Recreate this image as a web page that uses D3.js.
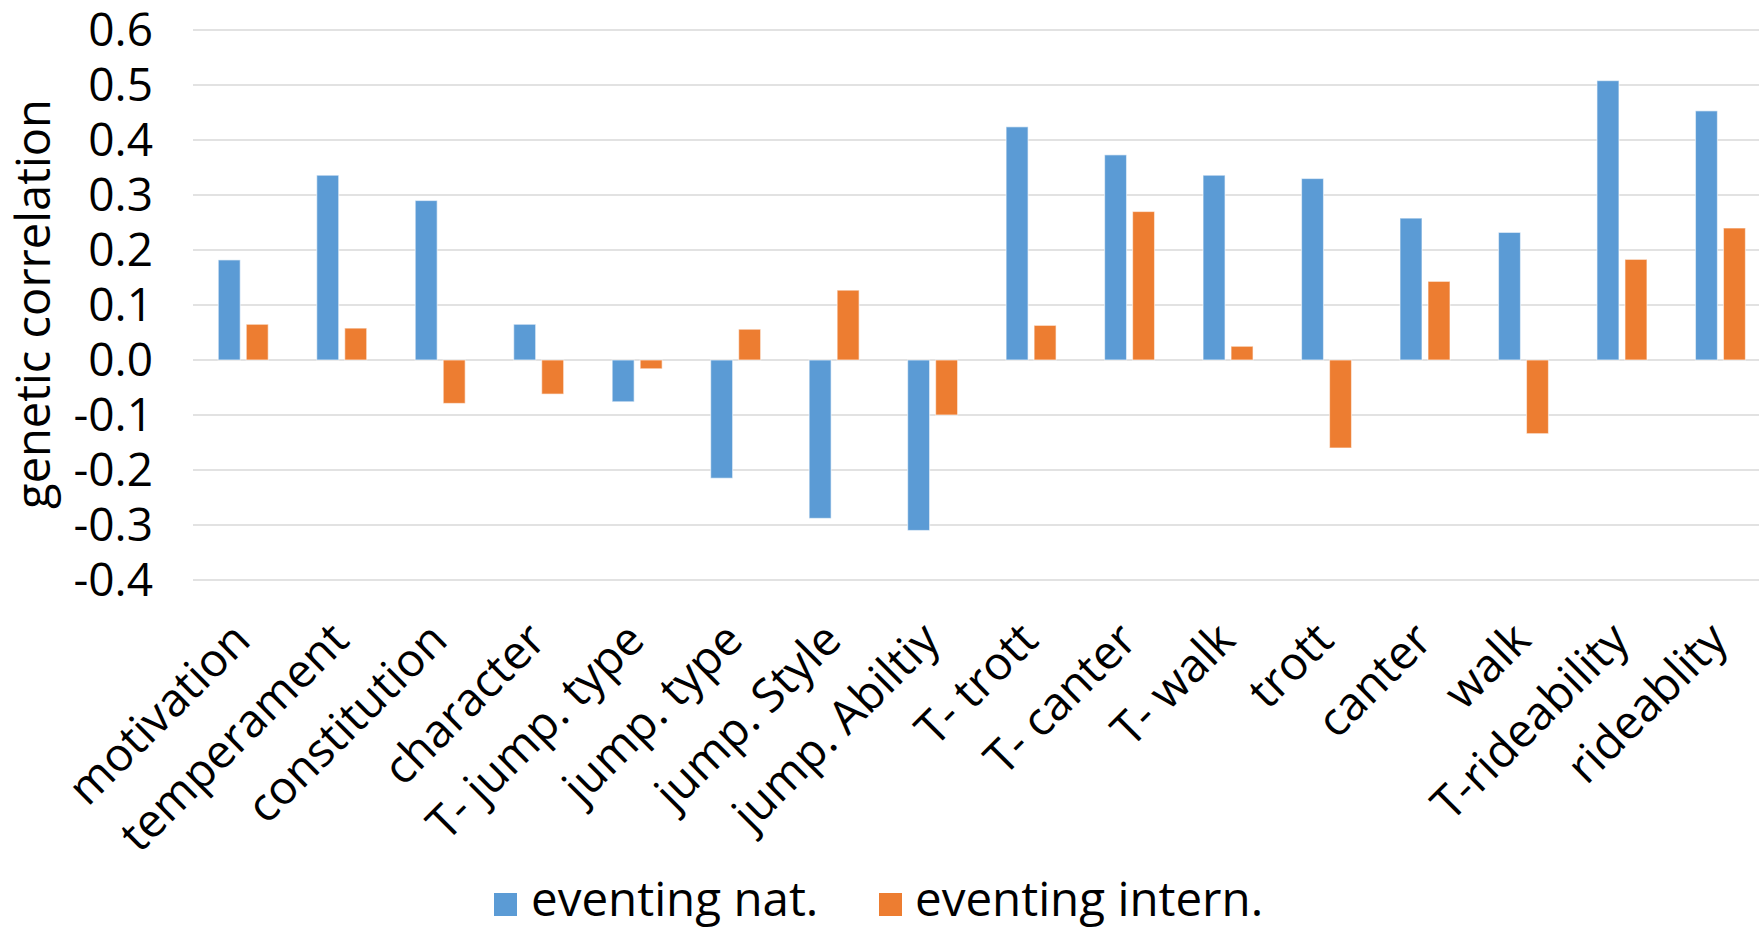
<!DOCTYPE html>
<html>
<head>
<meta charset="utf-8">
<script src="https://cdn.jsdelivr.net/npm/d3@7"></script>
<style>
  html, body { margin: 0; padding: 0; background: #ffffff; }
  svg { display: block; }
  text { font-family: "Open Sans", "Noto Sans", "DejaVu Sans", sans-serif; fill: #000; }
</style>
</head>
<body>
<svg id="chart" width="1759" height="929"></svg>
<script>
const categories = ["motivation", "temperament", "constitution", "character", "T- jump. type", "jump. type",
  "jump. Style", "jump. Abiltiy", "T- trott", "T- canter", "T- walk", "trott", "canter", "walk",
  "T-rideability", "rideablity"];
const seriesNames = ["eventing nat.", "eventing intern."];
const eventingNat = [0.182, 0.336, 0.290, 0.065, -0.076, -0.215, -0.288, -0.310, 0.424, 0.373, 0.336, 0.330, 0.258, 0.232, 0.508, 0.453];
const eventingIntern = [0.065, 0.058, -0.079, -0.062, -0.016, 0.056, 0.127, -0.100, 0.063, 0.270, 0.025, -0.160, 0.143, -0.134, 0.183, 0.240];
const yTicks = [0.6, 0.5, 0.4, 0.3, 0.2, 0.1, 0.0, -0.1, -0.2, -0.3, -0.4];
const yTickLabels = ["0.6", "0.5", "0.4", "0.3", "0.2", "0.1", "0.0", "-0.1", "-0.2", "-0.3", "-0.4"];
const yTitle = "genetic correlation";
const colors = ["#5B9BD5", "#ED7D31"];

const svg = d3.select("#chart");
const W = 1759, H = 929;
svg.append("rect").attr("width", W).attr("height", H).attr("fill", "#fff");

const plotLeft = 194, step = 98.48;
const x = d3.scaleBand().domain(categories).range([plotLeft, plotLeft + step * categories.length]).padding(0);
const y = d3.scaleLinear().domain([-0.4, 0.6]).range([580, 30]);
const inner = d3.scaleBand().domain(seriesNames)
  .range([x.bandwidth() * 0.5 - 25, x.bandwidth() * 0.5 + 25]).paddingInner(6 / 28).paddingOuter(0);

// gridlines
const grid = svg.append("g");
grid.selectAll("line").data(yTicks).join("line")
  .attr("x1", plotLeft - 1).attr("x2", W)
  .attr("y1", d => y(d)).attr("y2", d => y(d))
  .attr("stroke", "#d9d9d9").attr("stroke-width", 1.6);

// y axis labels
const yAxis = d3.axisLeft(y).tickValues(yTicks).tickSize(0).tickPadding(0)
  .tickFormat((d, i) => yTickLabels[i]);
const yg = svg.append("g").attr("transform", "translate(153,0)").call(yAxis);
yg.select(".domain").remove();
yg.selectAll("text").attr("font-size", 46).attr("font-family", "'Open Sans', sans-serif")
  .attr("fill", "#000").attr("dy", "0.34em").attr("x", 0);

// y title
svg.append("text")
  .attr("transform", "translate(50," + 304 + ") rotate(-90)")
  .attr("text-anchor", "middle").attr("font-size", 47)
  .text(yTitle);

// bars
const seriesData = [eventingNat, eventingIntern];
seriesData.forEach((vals, si) => {
  svg.append("g").selectAll("rect").data(vals).join("rect")
    .attr("x", (d, i) => x(categories[i]) + inner(seriesNames[si]))
    .attr("width", inner.bandwidth())
    .attr("y", d => Math.min(y(d), y(0)))
    .attr("height", d => Math.abs(y(d) - y(0)))
    .attr("fill", colors[si])
    .attr("stroke", "#ffffff").attr("stroke-opacity", 0.55).attr("stroke-width", 1.2);
});

// category labels
const xg = svg.append("g");
xg.selectAll("text").data(categories).join("text")
  .attr("transform", d => "translate(" + (x(d) + x.bandwidth() / 2 - 2) + ",631) rotate(-45)")
  .attr("text-anchor", "end").attr("dy", "0.35em").attr("font-size", 46.5)
  .text(d => d);

// legend
const legendItems = [
  { name: seriesNames[0], color: colors[0], sx: 494, tx: 531 },
  { name: seriesNames[1], color: colors[1], sx: 879, tx: 915 }
];
const lg = svg.append("g");
legendItems.forEach(it => {
  lg.append("rect").attr("x", it.sx).attr("y", 893).attr("width", 23).attr("height", 23).attr("fill", it.color);
  lg.append("text").attr("x", it.tx).attr("y", 916).attr("font-size", 47.5).text(it.name);
});
</script>
</body>
</html>
